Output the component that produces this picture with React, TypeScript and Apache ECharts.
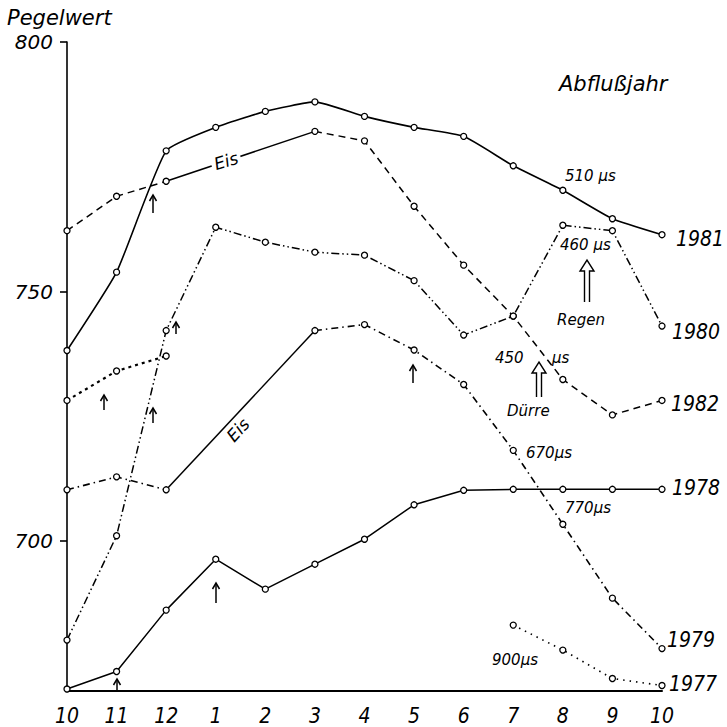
import React, { useEffect, useRef } from "react";
import * as echarts from "echarts";

const months = ["10", "11", "12", "1", "2", "3", "4", "5", "6", "7", "8", "9", "10"];
const yTicks = [700, 750, 800];

const y1977 = [null, null, null, null, null, null, null, null, null, 683.2, 678.2, 672.5, 671.1];
const y1978 = [670.4, 673.9, 686.2, 696.4, 690.4, 695.4, 700.4, 707.3, 710.2, 710.4, 710.4, 710.4, 710.4];
const y1979 = [710.3, 712.9, 710.3, null, null, 742.2, 743.4, 738.3, 731.4, 718.2, 703.4, 688.6, 678.5];
const y1980 = [680.2, 701.1, 742.2, 762.9, 759.9, 757.9, 757.3, 752.2, 741.3, 745.1, 763.3, 762.2, 743.1];
const y1981 = [738.2, 753.9, 778.2, 782.9, 786.1, 788.0, 785.1, 782.9, 781.1, 775.2, 770.3, 764.6, 761.4];
const y1982 = [762.2, 769.1, 772.1, null, null, 782.1, 780.2, 767.1, 755.3, 745.1, 732.4, 725.3, 728.2];
const y1983 = [728.2, 734.1, 737.1, null, null, null, null, null, null, null, null, null, null];

// ice periods (solid segments), indices of start / end
const ice1979 = [2, 5];
const ice1982 = [2, 5];

const FONT = "'DejaVu Sans', sans-serif";
const FONT_C = "'DejaVu Sans Condensed', 'DejaVu Sans', sans-serif";

function segment(arr: (number | null)[], range: number[]) {
  return arr.map((v, i) => (i >= range[0] && i <= range[1] ? v : null));
}

function arrow(x: number, yT: number, yB: number) {
  return [
    { type: "line", shape: { x1: x, y1: yB, x2: x, y2: yT }, style: { stroke: "#000", lineWidth: 1.5 } },
    {
      type: "polyline",
      shape: { points: [[x - 3.5, yT + 6], [x, yT], [x + 3.5, yT + 6]] },
      style: { stroke: "#000", lineWidth: 1.5, fill: null },
    },
  ];
}

function dblArrow(x: number, yT: number, yB: number) {
  return [
    {
      type: "polyline",
      shape: {
        points: [
          [x - 2.5, yB], [x - 2.5, yT + 11], [x - 7, yT + 11], [x, yT],
          [x + 7, yT + 11], [x + 2.5, yT + 11], [x + 2.5, yB],
        ],
      },
      style: { stroke: "#000", lineWidth: 1.4, fill: null },
    },
  ];
}

function txt(text: string, x: number, y: number, size: number, extra: any = {}) {
  return {
    type: "text",
    x,
    y,
    rotation: extra.rotation || 0,
    style: {
      text,
      fontSize: size,
      fontStyle: "italic",
      fontFamily: extra.family || FONT,
      fill: "#000",
      align: extra.align || "left",
      verticalAlign: "middle",
      backgroundColor: extra.bg,
      padding: extra.bg ? [0, 3] : 0,
    },
    z: 100,
  };
}

const sym = {
  symbol: "circle",
  symbolSize: 6,
  showAllSymbol: true,
  itemStyle: { color: "#fff", borderColor: "#000", borderWidth: 1.3 },
};

export default function App() {
  const ref = useRef<HTMLDivElement>(null);
  useEffect(() => {
    if (!ref.current) return;
    const chart = echarts.init(ref.current, null, { renderer: "svg" });
    const line = (data: any[], type: any, width = 1.4, extra: any = {}) => ({
      type: "line",
      data,
      ...sym,
      lineStyle: { color: "#000", width, type },
      connectNulls: false,
      z: 3,
      ...extra,
    });
    const option: any = {
      animation: false,
      backgroundColor: "#fff",
      grid: { left: 67, right: 65, top: 42, bottom: 36 },
      xAxis: {
        type: "category",
        data: months,
        boundaryGap: false,
        axisLine: { lineStyle: { color: "#000", width: 2 } },
        axisTick: { show: false },
        axisLabel: {
          interval: 0,
          color: "#000",
          fontSize: 21,
          fontStyle: "italic",
          fontFamily: FONT_C,
          margin: 14,
        },
        splitLine: { show: false },
      },
      yAxis: {
        type: "value",
        min: 670,
        max: 800,
        axisLine: { show: true, lineStyle: { color: "#000", width: 1.6 } },
        axisTick: { show: true, length: 7, customValues: yTicks, lineStyle: { color: "#000", width: 1.6 } },
        axisLabel: {
          customValues: yTicks,
          color: "#000",
          fontSize: 20,
          fontStyle: "italic",
          fontFamily: FONT,
          margin: 14,
          verticalAlign: "middle",
        },
        splitLine: { show: false },
      },
      series: [
        line(y1977, [1.5, 5], 1.6),
        line(y1978, "solid", 1.5),
        line(y1979, [7, 4, 1.5, 4], 1.6),
        line(segment(y1979, ice1979), "solid", 1.5, { connectNulls: true, showSymbol: false, z: 2 }),
        line(y1980, [8, 3, 1.5, 3, 1.5, 3], 1.5),
        line(y1981, "solid", 1.6, { smooth: 0.15 }),
        line(y1982, [7, 5], 1.5),
        line(segment(y1982, ice1982), "solid", 1.5, { connectNulls: true, showSymbol: false, z: 2 }),
        line(y1983, [3, 4], 2.2),
      ],
      graphic: [
        txt("Pegelwert", 7, 18, 21),
        txt("Abflußjahr", 559, 84, 21),
        txt("510 µs", 565, 176, 15),
        txt("460 µs", 557, 245, 15, { bg: "#fff" }),
        txt("Regen", 557, 320, 15),
        txt("450", 495, 358, 15),
        txt("µs", 552, 358, 15),
        txt("Dürre", 507, 411, 15),
        txt("670µs", 526, 453, 15),
        txt("770µs", 565, 508, 15),
        txt("900µs", 492, 660, 15),
        txt("Eis", 226, 161, 17, { align: "center", rotation: 0.3, bg: "#fff" }),
        txt("Eis", 238, 430, 17, { align: "center", rotation: 0.83, bg: "#fff" }),
        txt("1981", 676, 239, 21, { family: FONT_C }),
        txt("1980", 672, 332, 21, { family: FONT_C }),
        txt("1982", 671, 404, 21, { family: FONT_C }),
        txt("1978", 672, 488, 21, { family: FONT_C }),
        txt("1979", 667, 640, 21, { family: FONT_C }),
        txt("1977", 669, 684, 21, { family: FONT_C }),
        ...arrow(153, 195, 213),
        ...arrow(104, 395, 410),
        ...arrow(176, 322, 334),
        ...arrow(153, 408, 423),
        ...arrow(216, 583, 603),
        ...arrow(117, 679, 691),
        ...arrow(413, 365, 383),
        ...dblArrow(587, 260, 302),
        ...dblArrow(539, 362, 397),
      ],
    };
    chart.setOption(option);
    return () => chart.dispose();
  }, []);
  return (
    <div
      ref={ref}
      style={{ position: "absolute", left: 0, top: 0, width: 727, height: 727, background: "#fff" }}
    />
  );
}
